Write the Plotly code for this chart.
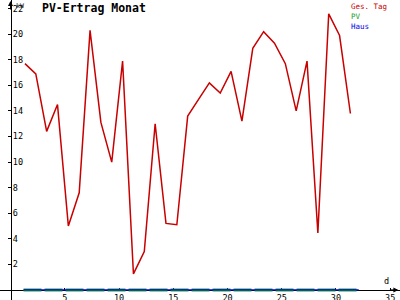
import plotly.graph_objects as go

# ---- data ----
days = list(range(1, 32))
ges_tag = [17.7, 16.9, 12.4, 14.5, 5.0, 7.6, 20.3, 13.1, 10.0, 17.9, 1.25,
           3.0, 13.0, 5.2, 5.1, 13.6, 14.9, 16.2, 15.4, 17.1, 13.2, 18.9,
           20.2, 19.3, 17.7, 14.0, 17.9, 4.45, 21.6, 19.9, 13.8]
flow_days = [1.2, 32.1]
pv_vals = [0, 0]
haus_vals = [0, 0]
series_names = ["Ges. Tag", "PV", "Haus"]
series_colors = ["#c80000", "#22a022", "#0000ee"]
x_ticks = [5, 10, 15, 20, 25, 30, 35]
y_ticks = [2, 4, 6, 8, 10, 12, 14, 16, 18, 20, 22]
title_text = "PV-Ertrag Monat"
y_unit = "kW"
x_unit = "d"

ges_x = [d + 0.33 for d in days]

MONO = "DejaVu Sans Mono"

fig = go.Figure()
fig.add_trace(go.Scatter(x=flow_days, y=pv_vals, mode="lines",
                         line=dict(color=series_colors[1], width=3, dash="18px,3px"),
                         name=series_names[1]))
fig.add_trace(go.Scatter(x=flow_days, y=haus_vals, mode="lines",
                         line=dict(color=series_colors[2], width=1.2),
                         name=series_names[2]))
fig.add_trace(go.Scatter(x=ges_x, y=ges_tag, mode="lines",
                         line=dict(color=series_colors[0], width=1.5),
                         name=series_names[0]))

legend_html = "<br>".join(
    '<span style="color:%s">%s</span>' % (c, n)
    for n, c in zip(series_names, series_colors))

annotations = [
    dict(text="<b>" + title_text + "</b>", xref="paper", yref="paper",
         x=40 / 400, y=1 - 7.5 / 300, xanchor="left", yanchor="middle",
         showarrow=False, font=dict(family=MONO, size=11.5, color="black")),
    dict(text=y_unit, xref="paper", yref="paper", x=14 / 400, y=1.0,
         xanchor="left", yanchor="top", showarrow=False,
         font=dict(family=MONO, size=6.5, color="black")),
    dict(text=x_unit, xref="x", yref="y", x=34.7, y=0.7, xanchor="center",
         yanchor="middle", showarrow=False,
         font=dict(family=MONO, size=8.5, color="black")),
    # axis arrows
    dict(text="", xref="x", yref="y", x=0, y=22.6, ax=0, ay=10,
         showarrow=True, arrowhead=2, arrowsize=1, arrowwidth=1, arrowcolor="black"),
    dict(text="", xref="x", yref="y", x=35.75, y=0, ax=-10, ay=0,
         showarrow=True, arrowhead=2, arrowsize=1, arrowwidth=1, arrowcolor="black"),
    # legend as coloured text
    dict(text=legend_html, xref="paper", yref="paper", x=349 / 400, y=1.0,
         xanchor="left", yanchor="top", align="left", showarrow=False,
         font=dict(family=MONO, size=7.5, color="black")),
]

fig.update_layout(
    width=400, height=300,
    margin=dict(l=0, r=0, t=0, b=0, pad=0),
    paper_bgcolor="white", plot_bgcolor="white",
    showlegend=False,
    annotations=annotations,
    xaxis=dict(range=[-0.97, 35.9], domain=[0, 1], anchor="free",
               position=(300 - 289.9) / 300, layer="below traces",
               showgrid=False, zeroline=False, showline=True,
               linecolor="black", linewidth=1,
               tickvals=x_ticks, ticks="inside", ticklen=2, tickcolor="black",
               ticklabelstandoff=0,
               tickfont=dict(family=MONO, size=8.5, color="black"),
               automargin=False),
    yaxis=dict(range=[-0.79, 22.68], domain=[0, 1], anchor="free",
               position=10.5 / 400, layer="below traces",
               showgrid=False, zeroline=False, showline=True,
               linecolor="black", linewidth=1,
               tickvals=y_ticks, ticks="outside", ticklen=3, tickcolor="black",
               ticklabelposition="inside",
               tickfont=dict(family=MONO, size=8.5, color="black"),
               automargin=False),
)

fig.write_html("out.html")
